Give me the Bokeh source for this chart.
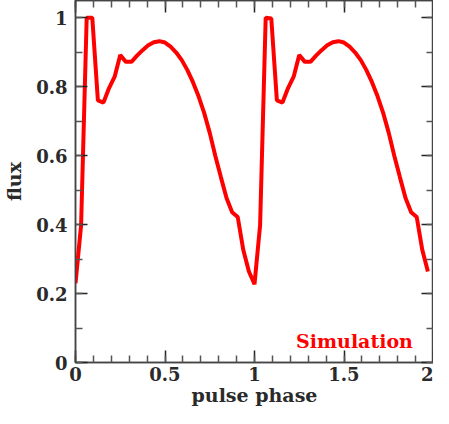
from bokeh.plotting import figure
from bokeh.models import Range1d, LinearAxis, FixedTicker, Label
from bokeh.embed import file_html
from bokeh.resources import INLINE

phase = [0.0, 0.03125, 0.0625, 0.09375, 0.125, 0.15625, 0.1875, 0.21875,
         0.25, 0.28125, 0.3125, 0.34375, 0.375, 0.40625, 0.4375, 0.46875,
         0.5, 0.53125, 0.5625, 0.59375, 0.625, 0.65625, 0.6875, 0.71875,
         0.75, 0.78125, 0.8125, 0.84375, 0.875, 0.90625, 0.9375, 0.96875,
         1.0, 1.03125, 1.0625, 1.09375, 1.125, 1.15625, 1.1875, 1.21875,
         1.25, 1.28125, 1.3125, 1.34375, 1.375, 1.40625, 1.4375, 1.46875,
         1.5, 1.53125, 1.5625, 1.59375, 1.625, 1.65625, 1.6875, 1.71875,
         1.75, 1.78125, 1.8125, 1.84375, 1.875, 1.90625, 1.9375, 1.96875]
flux = [0.230, 0.398, 1.000, 1.000, 0.760, 0.754, 0.796, 0.829,
        0.892, 0.872, 0.872, 0.890, 0.906, 0.920, 0.929, 0.932,
        0.928, 0.916, 0.899, 0.877, 0.848, 0.813, 0.772, 0.724,
        0.666, 0.599, 0.537, 0.477, 0.436, 0.422, 0.326, 0.264,
        0.227, 0.398, 1.000, 0.998, 0.760, 0.754, 0.796, 0.829,
        0.892, 0.872, 0.872, 0.890, 0.906, 0.920, 0.929, 0.932,
        0.928, 0.916, 0.899, 0.877, 0.848, 0.813, 0.772, 0.724,
        0.666, 0.599, 0.537, 0.477, 0.436, 0.422, 0.326, 0.264]

x_major = [0, 0.5, 1, 1.5, 2]
x_minor = [i / 10 for i in range(0, 21)]
y_major = [0, 0.2, 0.4, 0.6, 0.8, 1.0]
y_minor = [i / 10 for i in range(0, 11)]
x_labels = {0: "0", 0.5: "0.5", 1: "1", 1.5: "1.5", 2: "2"}
y_labels = {0: "0", 0.2: "0.2", 0.4: "0.4", 0.6: "0.6", 0.8: "0.8", 1.0: "1"}

FONT = "DejaVu Serif"
TXT = "#2a2a2a"
LINE = "#444444"

p = figure(width=433, height=408, output_backend="svg", toolbar_location=None,
           x_range=Range1d(0, 2), y_range=Range1d(0, 1.05),
           min_border_left=69, min_border_right=0, min_border_top=0,
           min_border_bottom=44)
p.grid.visible = False
p.outline_line_color = LINE
p.outline_line_width = 1.5
p.background_fill_color = "white"
p.border_fill_color = "white"

p.line(phase, flux, line_color="#ff0000", line_width=4)

def style(ax, labels, major, minor, show):
    ax.ticker = FixedTicker(ticks=major, minor_ticks=minor)
    ax.major_tick_in = 12
    ax.major_tick_out = 0
    ax.minor_tick_in = 7
    ax.minor_tick_out = 0
    ax.axis_line_color = LINE
    ax.axis_line_width = 1.5
    ax.major_tick_line_color = "#222222"
    ax.minor_tick_line_color = "#555555"
    ax.major_tick_line_width = 1.5
    ax.minor_tick_line_width = 1.5
    if show:
        ax.major_label_overrides = labels
        ax.major_label_text_font = FONT
        ax.major_label_text_font_style = "bold"
        ax.major_label_text_font_size = "18px"
        ax.major_label_text_color = TXT
        ax.axis_label_text_font = FONT
        ax.axis_label_text_font_style = "bold"
        ax.axis_label_text_font_size = "19px"
        ax.axis_label_text_color = TXT
    else:
        ax.major_label_overrides = {k: "" for k in labels}
        ax.major_label_text_font_size = "1px"
        ax.major_label_standoff = 0
        ax.axis_label_standoff = 0

style(p.xaxis[0], x_labels, x_major, x_minor, True)
style(p.yaxis[0], y_labels, y_major, y_minor, True)
p.xaxis[0].axis_label = "pulse phase"
p.yaxis[0].axis_label = "flux"
p.xaxis[0].major_label_standoff = 4
p.yaxis[0].major_label_standoff = 8
p.xaxis[0].axis_label_standoff = 0
p.yaxis[0].axis_label_standoff = 8

right = LinearAxis()
top = LinearAxis()
style(right, y_labels, y_major, y_minor, False)
style(top, x_labels, x_major, x_minor, False)
p.add_layout(right, "right")
p.add_layout(top, "above")

p.add_layout(Label(x=1.885, y=0.03, text="Simulation", text_align="right",
                   text_baseline="bottom", text_font=FONT, text_font_style="bold",
                   text_font_size="19px", text_color="#ff0000"))

open("out.html", "w").write(file_html(p, INLINE))
